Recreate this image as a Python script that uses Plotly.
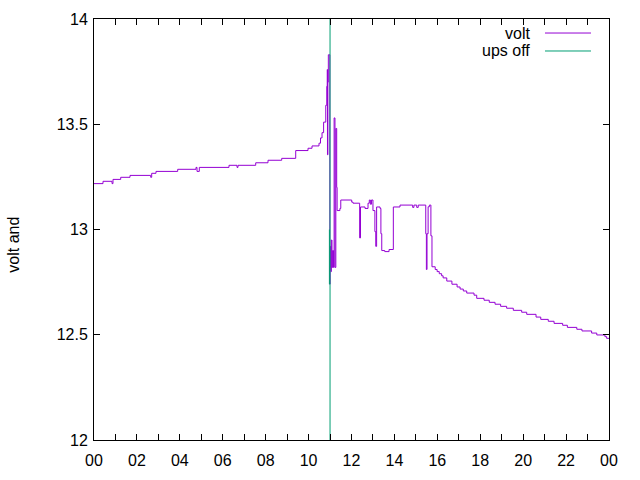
import plotly.graph_objects as go

# ---- data (hours of day, volts) ----
volt_hours = [
    0.0, 0.42, 0.84, 0.885, 1.244, 1.678, 2.642, 2.689, 2.889, 3.90,
    4.753, 4.80, 4.907, 6.291, 6.664, 6.71, 7.536, 8.109, 8.747, 9.40,
    9.973, 10.16, 10.486, 10.556, 10.626, 10.70, 10.80, 10.847, 10.87, 10.88,
    10.90, 10.92, 10.99, 11.0, 11.02, 11.04, 11.06, 11.09, 11.12, 11.16,
    11.19, 11.23, 11.27, 11.31, 11.33, 11.46, 11.50, 12.01, 12.07, 12.38,
    12.42, 12.63, 12.77, 12.83, 12.88, 12.93, 13.0, 13.09, 13.13, 13.17,
    13.33, 13.37, 13.41, 13.55, 13.75, 13.95, 14.26, 14.85, 14.91, 15.04,
    15.11, 15.46, 15.49, 15.52, 15.57, 15.63, 15.70, 15.75, 15.90, 15.99,
    16.09, 16.20, 16.27, 16.44, 16.68, 16.92, 17.06, 17.21, 17.37, 17.71,
    17.835, 18.175, 18.42, 18.69, 18.95, 19.23, 19.54, 19.93, 20.165, 20.6,
    20.82, 21.17, 21.44, 21.84, 22.06, 22.5, 22.74, 23.19, 23.43, 23.81,
    23.89, 24.0,
]
volt_values = [
    13.218, 13.229, 13.218, 13.238, 13.248, 13.257, 13.248, 13.267, 13.276, 13.286,
    13.295, 13.276, 13.295, 13.305, 13.295, 13.305, 13.317, 13.329, 13.338, 13.375,
    13.386, 13.397, 13.41, 13.435, 13.46, 13.51, 13.59, 13.68, 13.76, 13.355,
    13.70, 13.83, 12.74, 12.82, 12.92, 12.80, 12.95, 12.82, 12.90, 12.82,
    13.53, 12.82, 13.48, 13.20, 13.09, 13.10, 13.14, 13.13, 13.125, 12.96,
    13.107, 13.10, 13.125, 13.14, 13.12, 13.14, 13.09, 12.99, 12.92, 13.107,
    13.10, 12.98, 12.90, 12.895, 12.905, 13.107, 13.116, 13.105, 13.116, 13.105,
    13.116, 12.98, 12.81, 12.98, 13.108, 13.116, 12.97, 12.823, 12.81, 12.80,
    12.79, 12.78, 12.77, 12.755, 12.74, 12.727, 12.717, 12.708, 12.698, 12.688,
    12.673, 12.664, 12.654, 12.645, 12.635, 12.626, 12.616, 12.607, 12.597, 12.584,
    12.573, 12.564, 12.554, 12.545, 12.535, 12.526, 12.518, 12.508, 12.499, 12.491,
    12.483, 12.483,
]
ups_hours = [10.97, 10.97, None, 11.0, 11.0]
ups_values = [12.74, 13.0, None, 12.0, 14.0]

x_tick_hours = list(range(0, 25))
x_tick_text = [("%02d" % (h % 24)) if h % 2 == 0 else "" for h in x_tick_hours]
y_tick_values = [12, 12.5, 13, 13.5, 14]
y_tick_text = ["12", "12.5", "13", "13.5", "14"]
series_names = ["volt", "ups off"]
series_colors = ["#9400D3", "#009E73"]

FONT = "Liberation Sans, Arial, sans-serif"
FS = 16

fig = go.Figure()
fig.add_trace(go.Scatter(x=volt_hours, y=volt_values, mode="lines",
                         line=dict(color=series_colors[0], width=1, shape="hv"),
                         name=series_names[0], showlegend=False))
fig.add_trace(go.Scatter(x=ups_hours, y=ups_values, mode="lines",
                         line=dict(color=series_colors[1], width=1),
                         name=series_names[1], showlegend=False, connectgaps=False))

# gnuplot-style legend: text right-aligned, then line sample
legend_y = [0.9667, 0.924]
for name, color, ly in zip(series_names, series_colors, legend_y):
    fig.add_annotation(x=0.8505, y=ly, xref="paper", yref="paper", text=name,
                       showarrow=False, xanchor="right", yanchor="middle",
                       font=dict(family=FONT, size=FS, color="black"))
    fig.add_shape(type="line", xref="paper", yref="paper", x0=0.8757, x1=0.965,
                  y0=ly, y1=ly, line=dict(color=color, width=1))

fig.add_annotation(x=-0.158, y=0.463, xref="paper", yref="paper", text="volt and",
                   showarrow=False, textangle=-90, xanchor="center", yanchor="middle",
                   font=dict(family=FONT, size=FS, color="black"))

axis_common = dict(showline=True, linecolor="black", linewidth=1, mirror="ticks",
                   ticks="inside", ticklen=6, tickcolor="black", tickwidth=1,
                   showgrid=False, zeroline=False, automargin=False,
                   tickfont=dict(family=FONT, size=FS, color="black"))
fig.update_xaxes(range=[0, 24], tickmode="array", tickvals=x_tick_hours,
                 ticktext=x_tick_text, ticklabelstandoff=6, **axis_common)
fig.update_yaxes(range=[12, 14], tickmode="array", tickvals=y_tick_values,
                 ticktext=y_tick_text, ticklabelstandoff=2, **axis_common)

fig.update_layout(width=640, height=480, plot_bgcolor="white", paper_bgcolor="white",
                  margin=dict(l=94, r=31, t=19, b=40),
                  font=dict(family=FONT, size=FS, color="black"))
fig.write_html("out.html")
